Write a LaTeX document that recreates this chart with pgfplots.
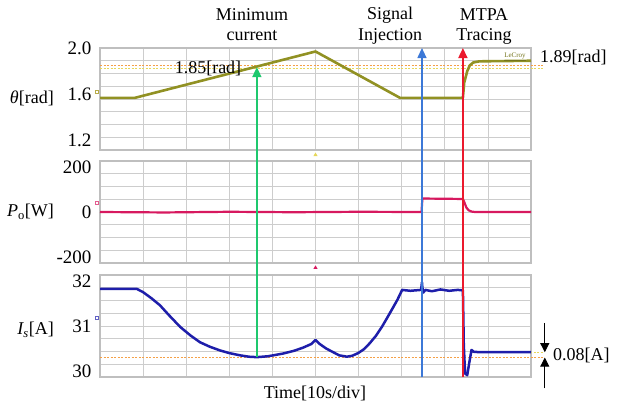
\documentclass[border=0pt]{standalone}
\usepackage{pgfplots}
\pgfplotsset{compat=1.18}
\usepackage{fontspec}
\setmainfont{Liberation Serif}
\usetikzlibrary{arrows.meta}
\definecolor{thcol}{RGB}{145,145,35}
\definecolor{pcol}{RGB}{215,25,95}
\definecolor{icol}{RGB}{30,30,170}
\definecolor{garrow}{RGB}{30,200,110}
\definecolor{barrow}{RGB}{60,120,215}
\definecolor{rarrow}{RGB}{235,25,45}
\definecolor{odot}{RGB}{245,160,70}
\definecolor{ydot}{RGB}{230,215,90}
\definecolor{gridc}{RGB}{205,205,205}
\pgfplotsset{panel/.style={
  scale only axis, width=431pt, height=102pt, xmin=0, xmax=10,
  xtick={0,...,10}, xticklabels={}, yticklabels={},
  major tick length=0pt, grid=major, grid style={gridc, line width=0.7pt},
  axis line style={gray!50, line width=1.1pt},
  clip=false,
  extra tick style={grid=none, major tick length=0pt},
  /pgf/number format/assume math mode=true,
  yticklabel style={font=\fontsize{19}{20}\selectfont, xshift=-5pt},
}}
\begin{document}
\begin{tikzpicture}
\path[use as bounding box] (0,0) rectangle (621pt,-405pt);
% ---------- theta panel
\begin{axis}[panel, at={(100pt,-48pt)}, anchor=north west,
  ymin=1.12, ymax=2.0,
  ytick={1.12,1.23,1.34,1.45,1.56,1.67,1.78,1.89,2.0},
  extra y ticks={1.2,1.6,2.0}, extra y tick labels={1.2,1.6,2.0}]
\addplot[odot, dash pattern=on 2pt off 1.5pt, line width=0.8pt] coordinates {(0,1.85) (10.3,1.85)};
\addplot[ydot, dash pattern=on 2pt off 1.5pt, line width=0.8pt] coordinates {(0,1.82) (10.3,1.82)};
\addplot[thcol, line width=2.6pt, line join=round] coordinates {
 (0,1.57) (0.81,1.57) (5.0,1.97) (6.96,1.57) (8.42,1.57) (8.45,1.70)
 (8.52,1.80) (8.58,1.85) (8.66,1.875) (8.8,1.885) (10,1.89)};
\addplot[only marks, mark=square, mark size=1.5pt, ydot!80!black] coordinates {(-0.07,1.62)};
\coordinate (gT) at (axis cs:3.64,1.835);
\coordinate (bT) at (axis cs:7.47,2.0);
\coordinate (rT) at (axis cs:8.42,2.0);
\end{axis}
% ---------- power panel
\begin{axis}[panel, at={(100pt,-161pt)}, anchor=north west,
  ymin=-227, ymax=227,
  ytick={-227,-170.25,-113.5,-56.75,0,56.75,113.5,170.25,227},
  extra y ticks={-200,0,200}, extra y tick labels={-200,0,200}]
\addplot[pcol, line width=2.2pt, line join=round] coordinates {
 (0,0) (1.5,-2) (3,1) (4.5,-1) (6,1) (7.46,0) (7.48,60) (8.0,59) (8.42,58)
 (8.45,45) (8.5,20) (8.55,8) (8.62,2) (8.7,0) (10,0)};
\addplot[only marks, mark=square, mark size=1.5pt, pcol!70] coordinates {(-0.07,40)};
\addplot[only marks, mark=triangle*, mark size=2pt, ydot] coordinates {(5,254)};
\end{axis}
% ---------- current panel
\begin{axis}[panel, at={(100pt,-275pt)}, anchor=north west,
  ymin=29.87, ymax=32.13,
  ytick={29.87,30.1525,30.435,30.7175,31.0,31.2825,31.565,31.8475,32.13},
  extra y ticks={30,31,32}, extra y tick labels={30,31,32}]
\addplot[odot, dash pattern=on 2pt off 1.5pt, line width=0.8pt] coordinates {(0,30.31) (10.3,30.31)};
\addplot[ydot, dash pattern=on 2pt off 1.5pt, line width=0.8pt] coordinates {(8.6,30.42) (10.3,30.42)};
\addplot[icol, line width=2.5pt, line join=round] coordinates {
 (0,31.82) (0.86,31.82) (1.0,31.75) (1.2,31.61) (1.39,31.46) (1.6,31.24)
 (1.86,30.98) (2.1,30.79) (2.32,30.64) (2.55,30.54) (2.78,30.46) (3.0,30.40)
 (3.25,30.35) (3.45,30.32) (3.64,30.31) (3.9,30.33) (4.25,30.39) (4.5,30.45)
 (4.71,30.52) (4.9,30.60) (5.0,30.69) (5.1,30.60) (5.25,30.50) (5.41,30.42)
 (5.55,30.35) (5.73,30.32) (5.85,30.34) (5.99,30.40) (6.13,30.49) (6.26,30.62)
 (6.4,30.78) (6.54,30.98) (6.65,31.16) (6.77,31.36) (6.9,31.58) (7.01,31.80)
 (7.2,31.78) (7.45,31.80) (7.47,31.97) (7.48,31.85) (7.50,31.74) (7.55,31.80)
 (7.7,31.77) (7.9,31.81) (8.1,31.78) (8.3,31.80) (8.42,31.79) (8.44,30.6)
 (8.47,29.95) (8.52,29.91) (8.57,30.2) (8.62,30.47) (8.67,30.43) (8.8,30.42) (10,30.42)};
\addplot[only marks, mark=square, mark size=1.5pt, icol!70] coordinates {(-0.07,31.18)};
\addplot[only marks, mark=triangle*, mark size=2pt, pcol] coordinates {(5,32.29)};
\coordinate (gB) at (axis cs:3.64,30.31);
\coordinate (bB) at (axis cs:7.47,29.87);
\coordinate (rB) at (axis cs:8.42,29.87);
\draw[black, line width=0.9pt, -{Triangle[width=9pt,length=9pt]}] (axis cs:10.32,31.07) -- (axis cs:10.32,30.42);
\draw[black, line width=0.9pt, -{Triangle[width=9pt,length=9pt]}] (axis cs:10.32,29.62) -- (axis cs:10.32,30.30);
\end{axis}
% ---------- arrows
\draw[garrow, line width=1.6pt, -{Triangle[width=9pt,length=10pt]}] (gB) -- (gT);
\draw[barrow, line width=1.3pt, -{Triangle[width=9pt,length=10pt]}] (bB) -- (bT);
\draw[rarrow, line width=1.6pt, -{Triangle[width=9pt,length=10pt]}] (rB) -- (rT);
% ---------- texts
\begin{scope}[every node/.style={font=\fontsize{18}{20}\selectfont, inner sep=0pt}]
\node at (252pt,-15pt) {Minimum};
\node at (252pt,-36pt) {current};
\node at (390pt,-15pt) {Signal};
\node at (390pt,-36pt) {Injection};
\node at (484pt,-15pt) {MTPA};
\node at (484pt,-36pt) {Tracing};
\node at (208pt,-68pt) {1.85[rad]};
\node[anchor=west] at (540pt,-57pt) {1.89[rad]};
\node[anchor=west] at (553pt,-355pt) {0.08[A]};
\node at (315pt,-393pt) {Time[10s/div]};
\node[anchor=east] at (54pt,-98pt) {{\itshape θ}[rad]};
\node[anchor=east] at (54pt,-212pt) {{\itshape P}\textsubscript{o}[W]};
\node[anchor=east] at (54pt,-330pt) {{\itshape I}\textsubscript{\itshape s}[A]};
\node[font=\fontsize{7}{8}\selectfont, text=thcol!80!black] at (515pt,-57pt) {\underline{LeCroy}};
\end{scope}
\end{tikzpicture}
\end{document}
